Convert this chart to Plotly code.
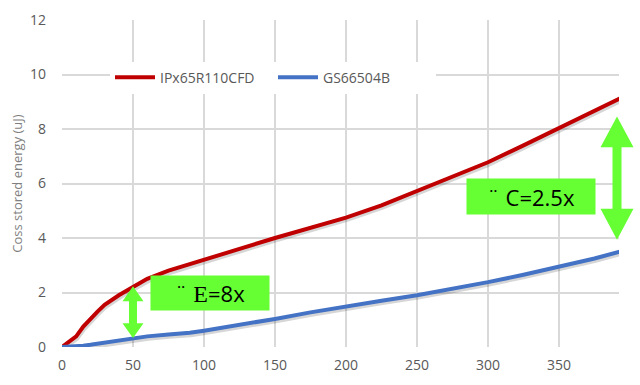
import plotly.graph_objects as go

voltage = [0, 5, 10, 15, 20, 25, 30, 40, 50, 60, 75, 90, 100, 125, 150, 175, 200,
           225, 250, 275, 300, 325, 350, 375, 400]
ipx65r110cfd = [0, 0.2, 0.39, 0.75, 1.05, 1.3, 1.55, 1.9, 2.2, 2.5, 2.8, 3.05, 3.2,
                3.6, 4.0, 4.37, 4.75, 5.2, 5.72, 6.25, 6.78, 7.4, 8.03, 8.65, 9.3]
gs66504b = [0, 0.01, 0.03, 0.05, 0.08, 0.12, 0.16, 0.24, 0.32, 0.39, 0.46, 0.52, 0.6,
            0.8, 1.03, 1.27, 1.5, 1.7, 1.9, 2.13, 2.38, 2.65, 2.95, 3.25, 3.6]
series_names = ["IPx65R110CFD", "GS66504B"]
series_colors = ["#C00000", "#4472C4"]
x_ticks = [0, 50, 100, 150, 200, 250, 300, 350, 400]
y_ticks = [0, 2, 4, 6, 8, 10, 12]

W, H = 640, 385
ML, MR, MT, MB = 62, 10, 18, 38
PW, PH = W - ML - MR, H - MT - MB


def px(xp):
    return (xp - ML) / PW


def py(yp):
    return 1 - (yp - MT) / PH


fig = go.Figure()

# soft shadows under the lines
for ys in (ipx65r110cfd, gs66504b):
    fig.add_trace(go.Scatter(x=[v + 0.8 for v in voltage], y=[v - 0.085 for v in ys],
                             mode="lines", line=dict(color="rgba(0,0,0,0.16)", width=4),
                             showlegend=False, hoverinfo="skip"))

for name, ys, col in zip(series_names, [ipx65r110cfd, gs66504b], series_colors):
    fig.add_trace(go.Scatter(x=voltage, y=ys, name=name, mode="lines",
                             line=dict(color=col, width=4)))

GREEN = "#66FF33"
shapes = []
# crop at right edge
shapes.append(dict(type="rect", xref="paper", yref="paper", x0=px(619), x1=1.2,
                   y0=-0.3, y1=1.2, fillcolor="white", line=dict(width=0), layer="above"))


def double_arrow(cx, top, bot, hw, hh, sw):
    pts = [(cx, top), (cx + hw, top + hh), (cx + sw, top + hh), (cx + sw, bot - hh),
           (cx + hw, bot - hh), (cx, bot), (cx - hw, bot - hh), (cx - sw, bot - hh),
           (cx - sw, top + hh), (cx - hw, top + hh)]
    path = "M " + " L ".join(f"{px(a):.5f},{py(b):.5f}" for a, b in pts) + " Z"
    return dict(type="path", xref="paper", yref="paper", path=path,
                fillcolor=GREEN, line=dict(width=0), layer="above")


shapes.append(double_arrow(133, 286, 338, 10.5, 15, 4))
shapes.append(double_arrow(617, 115, 239, 16.5, 31, 4.5))

annotations = [
    dict(xref="paper", yref="paper", x=px(210), y=py(293), xanchor="center",
         yanchor="middle", showarrow=False, bgcolor=GREEN, width=116, height=32,
         borderpad=1, align="center", valign="middle",
         text="¨ <span style='font-family:Liberation Serif;font-size:24px'>E</span>=8x",
         font=dict(family="Open Sans", size=22, color="black")),
    dict(xref="paper", yref="paper", x=px(531), y=py(195.5), xanchor="center",
         yanchor="middle", showarrow=False, bgcolor=GREEN, width=126, height=33,
         borderpad=1, align="center", valign="middle",
         text="¨ C=2.5x", font=dict(family="Open Sans", size=22, color="black")),
]

fig.update_layout(
    width=W, height=H, margin=dict(l=ML, r=MR, t=MT, b=MB),
    paper_bgcolor="white", plot_bgcolor="white",
    font=dict(family="Open Sans", color="#595959", size=14),
    shapes=shapes, annotations=annotations,
    legend=dict(orientation="h", x=px(110), y=py(76), xanchor="left", yanchor="middle",
                bgcolor="white", font=dict(size=14, color="#595959"),
                itemwidth=40, entrywidth=108, entrywidthmode="pixels", tracegroupgap=0),
    xaxis=dict(range=[0, 400], tickvals=x_ticks, showgrid=True, gridcolor="#D9D9D9",
               gridwidth=1.5, zeroline=False, showline=False, ticks="",
               ticklabelstandoff=8, tickfont=dict(size=14, color="#595959")),
    yaxis=dict(range=[0, 12], tickvals=y_ticks, showgrid=True, gridcolor="#D9D9D9",
               gridwidth=1.5, zeroline=False, showline=False, ticks="",
               ticklabelstandoff=15, tickfont=dict(size=14, color="#595959"),
               title=dict(text="Coss stored energy (uJ)", standoff=4,
                          font=dict(size=13, color="#7F7F7F"))),
)

fig.write_html("out.html")
